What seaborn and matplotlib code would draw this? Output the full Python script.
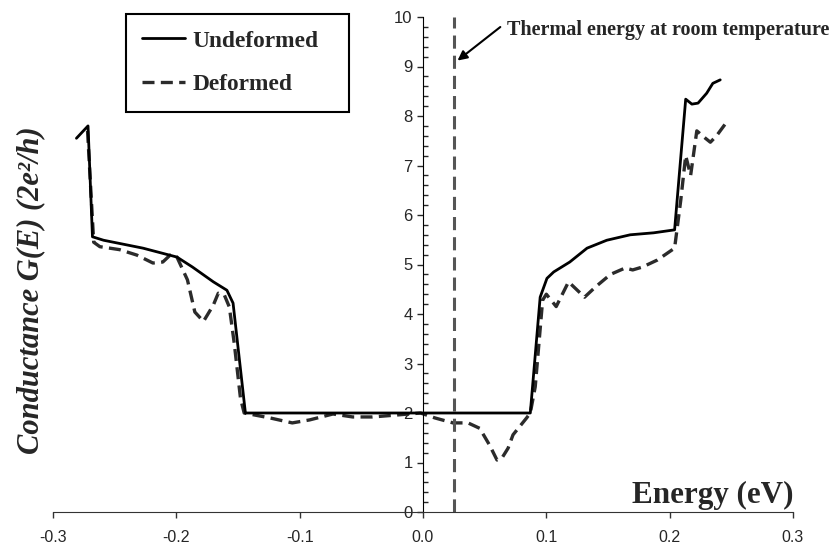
import pandas as pd
import matplotlib
matplotlib.use("Agg")
import matplotlib.pyplot as plt
import seaborn as sns
from matplotlib.ticker import MultipleLocator, FormatStrFormatter

# Conductance (energy in eV, G in units of 2e^2/h)
energy_undeformed = [-0.281, -0.2716, -0.268, -0.259, -0.227, -0.1995, -0.187, -0.170,
                     -0.159, -0.154, -0.144, 0.087, 0.095, 0.1005, 0.106, 0.119, 0.133,
                     0.149, 0.168, 0.187, 0.204, 0.213, 0.218, 0.223, 0.230, 0.235, 0.241]
g_undeformed = [7.55, 7.80, 5.56, 5.49, 5.33, 5.15, 4.95, 4.65,
                4.48, 4.22, 2.00, 2.00, 4.34, 4.72, 4.85, 5.05, 5.33,
                5.49, 5.60, 5.64, 5.70, 8.34, 8.24, 8.26, 8.46, 8.66, 8.73]

energy_deformed = [-0.272, -0.267, -0.262, -0.246, -0.232, -0.219, -0.211, -0.205, -0.1995,
                   -0.191, -0.185, -0.178, -0.170, -0.166, -0.161, -0.157, -0.153, -0.148,
                   -0.145, -0.124, -0.106, -0.092, -0.073, -0.057, -0.041, -0.021, -0.002,
                   0.0097, 0.0243, 0.0365, 0.046, 0.054, 0.060, 0.064, 0.069, 0.073, 0.084,
                   0.087, 0.091, 0.097, 0.100, 0.108, 0.118, 0.131, 0.140, 0.152, 0.164,
                   0.170, 0.178, 0.190, 0.204, 0.209, 0.213, 0.217, 0.222, 0.229, 0.233,
                   0.238, 0.246]
g_deformed = [7.70, 5.45, 5.36, 5.30, 5.19, 5.03, 5.05, 5.19, 5.15,
              4.69, 4.04, 3.85, 4.18, 4.42, 4.38, 4.14, 3.40, 2.30,
              2.00, 1.90, 1.80, 1.86, 1.98, 1.92, 1.92, 1.96, 2.00,
              1.90, 1.80, 1.80, 1.69, 1.35, 1.05, 1.09, 1.29, 1.56, 1.90,
              2.00, 2.53, 4.28, 4.40, 4.15, 4.65, 4.34, 4.55, 4.80, 4.93,
              4.89, 4.95, 5.09, 5.33, 6.30, 7.20, 6.80, 7.70, 7.55, 7.47,
              7.60, 7.87]

thermal_energy = 0.025
x_ticks = [-0.3, -0.2, -0.1, 0.0, 0.1, 0.2, 0.3]
y_ticks = [0, 1, 2, 3, 4, 5, 6, 7, 8, 9, 10]

sns.set_style("white")
plt.rcParams.update({
    'font.family': ['Liberation Sans', 'DejaVu Sans'],
    'axes.unicode_minus': False,
})
serif = ['Liberation Serif', 'DejaVu Serif']

fig = plt.figure(figsize=(8.35, 5.48), dpi=100)
ax = fig.add_axes([53 / 835, 1 - 512 / 548, 740 / 835, 495 / 548])

df_u = pd.DataFrame({'Energy': energy_undeformed, 'G': g_undeformed})
df_d = pd.DataFrame({'Energy': energy_deformed, 'G': g_deformed})

sns.lineplot(data=df_d, x='Energy', y='G', sort=False, estimator=None, ax=ax,
             color='#2b2b2b', lw=2.4, linestyle=(0, (3.6, 1.9)), label='Deformed')
sns.lineplot(data=df_u, x='Energy', y='G', sort=False, estimator=None, ax=ax,
             color='black', lw=2.0, label='Undeformed')

# room temperature marker
ax.axvline(thermal_energy, color='#555555', lw=2.2, linestyle=(0, (4.3, 2.3)))
ax.annotate('Thermal energy at room temperature', xy=(0.028, 9.12), xytext=(0.068, 9.74),
            ha='left', va='center', family=serif, fontweight='bold', fontsize=14.5,
            annotation_clip=False,
            arrowprops=dict(arrowstyle='-|>', color='black', lw=1.5, relpos=(0, 0.9),
                            mutation_scale=14, shrinkA=3, shrinkB=0))

ax.set_xlim(-0.3, 0.3)
ax.set_ylim(0, 10)

ax.spines['left'].set_position(('data', 0))
ax.spines['top'].set_visible(False)
ax.spines['right'].set_visible(False)
ax.spines['left'].set_color('black')
ax.spines['bottom'].set_color('#333333')

ax.set_xticks(x_ticks)
ax.xaxis.set_major_formatter(FormatStrFormatter('%.1f'))
ax.set_yticks(y_ticks)
ax.yaxis.set_minor_locator(MultipleLocator(0.2))
ax.tick_params(axis='x', which='major', bottom=True, direction='out', length=4.3,
               width=1, pad=9, labelsize=11.5, color='#333333')
ax.tick_params(axis='y', which='major', left=True, direction='out', length=4.5,
               width=1, pad=3, labelsize=12)
ax.tick_params(axis='y', which='minor', left=True, direction='in', length=3.6, width=1)

ax.set_ylabel('Conductance G(E) (2e²/h)', family=serif, fontweight='bold',
              fontstyle='italic', fontsize=22)
ax.yaxis.set_label_coords(-(53 - 31) / 740, 0.449)
ax.yaxis.label.set_va('center')

ax.set_xlabel('Energy (eV)', family=serif, fontweight='bold', fontsize=22.4, loc='right')
ax.xaxis.set_label_coords(1.0, 9 / 495)
ax.xaxis.label.set_va('baseline')

handles, labels = ax.get_legend_handles_labels()
order = [labels.index('Undeformed'), labels.index('Deformed')]
leg = ax.legend([handles[i] for i in order], [labels[i] for i in order],
                loc='upper left', mode='expand',
                bbox_to_anchor=(126 / 835, 1 - 110 / 548, 223 / 835, 96 / 548),
                bbox_transform=fig.transFigure, borderaxespad=0, frameon=True,
                fancybox=False, edgecolor='black', framealpha=1,
                prop={'family': serif, 'weight': 'bold', 'size': 16.8},
                handlelength=1.85, handletextpad=0.3, borderpad=0.7, labelspacing=0.95)
leg.get_frame().set_linewidth(1.5)

fig.savefig('out.png', dpi=100)
